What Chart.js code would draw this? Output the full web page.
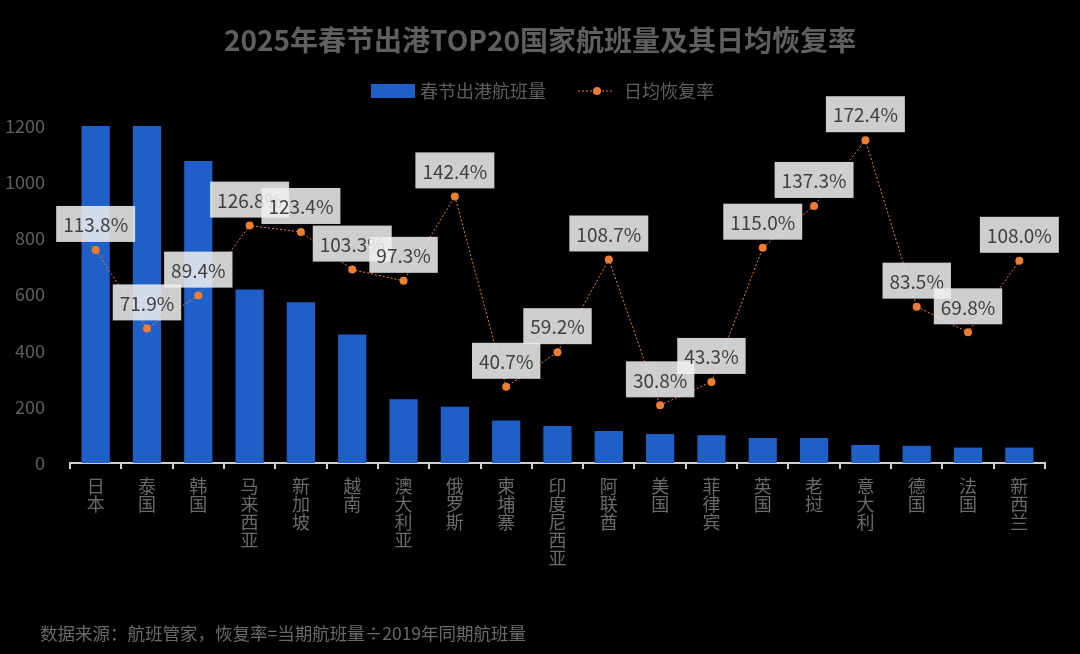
<!DOCTYPE html>
<html>
<head>
<meta charset="utf-8">
<script src="https://cdn.jsdelivr.net/npm/chart.js@4"></script>
<style>
  body { margin: 0; background: #000; }
  #wrap { width: 1080px; height: 654px; position: relative; }
</style>
</head>
<body>
<div id="wrap"><canvas id="chart"></canvas></div>
<script>
const countries = ['日本', '泰国', '韩国', '马来西亚', '新加坡', '越南', '澳大利亚', '俄罗斯', '柬埔寨',
  '印度尼西亚', '阿联酋', '美国', '菲律宾', '英国', '老挝', '意大利', '德国', '法国', '新西兰'];
const flights = [1200, 1200, 1075, 618, 572, 458, 227, 200, 151, 132, 114, 103, 99, 89, 89, 64, 61, 55, 55];
const recovery = [113.8, 71.9, 89.4, 126.8, 123.4, 103.3, 97.3, 142.4, 40.7, 59.2, 108.7, 30.8, 43.3, 115.0, 137.3, 172.4, 83.5, 69.8, 108.0];

const title = '2025年春节出港TOP20国家航班量及其日均恢复率';
const source = '数据来源：航班管家，恢复率=当期航班量÷2019年同期航班量';
const barName = '春节出港航班量';
const lineName = '日均恢复率';

const blue = '#1f5fc8';
const orange = '#ed7d31';
const gray = '#5f5f5f';
const font = '"Noto Sans CJK SC", "Noto Sans", sans-serif';

// labels in gray boxes above every point of the line
const boxLabels = {
  id: 'boxLabels',
  afterDatasetsDraw(chart) {
    const ctx = chart.ctx;
    const meta = chart.getDatasetMeta(0);
    ctx.save();
    ctx.font = '19px ' + font;
    ctx.textAlign = 'center';
    ctx.textBaseline = 'middle';
    meta.data.forEach((pt, i) => {
      const txt = recovery[i].toFixed(1) + '%';
      const w = ctx.measureText(txt).width + 14;
      const h = 36;
      const bottom = pt.y - 8;
      ctx.fillStyle = 'rgba(240,240,240,0.86)';
      ctx.fillRect(pt.x - w / 2, bottom - h, w, h);
      ctx.fillStyle = '#404040';
      ctx.fillText(txt, pt.x, bottom - h / 2 + 1);
    });
    ctx.restore();
  }
};

// title, legend and source note
const decor = {
  id: 'decor',
  afterDraw(chart) {
    const ctx = chart.ctx;
    ctx.save();
    ctx.fillStyle = gray;
    ctx.textBaseline = 'middle';
    ctx.textAlign = 'center';
    ctx.font = 'bold 28px ' + font;
    ctx.fillText(title, 540, 40);

    ctx.textAlign = 'left';
    ctx.font = '18px ' + font;
    ctx.fillStyle = blue;
    ctx.fillRect(371, 84, 44, 14);
    ctx.fillStyle = gray;
    ctx.fillText(barName, 420, 91);

    ctx.strokeStyle = orange;
    ctx.lineWidth = 1;
    ctx.setLineDash([2, 2]);
    ctx.beginPath();
    ctx.moveTo(578, 91);
    ctx.lineTo(614, 91);
    ctx.stroke();
    ctx.setLineDash([]);
    ctx.fillStyle = orange;
    ctx.beginPath();
    ctx.arc(597, 91, 4, 0, Math.PI * 2);
    ctx.fill();
    ctx.fillStyle = gray;
    ctx.fillText(lineName, 624, 91);

    ctx.font = '17.5px ' + font;
    ctx.fillStyle = '#6a6a6a';
    ctx.fillText(source, 40, 633);
    ctx.restore();
  }
};

new Chart(document.getElementById('chart'), {
  data: {
    labels: countries.map(c => c.split('')),
    datasets: [
      {
        type: 'line',
        label: lineName,
        data: recovery,
        yAxisID: 'y2',
        order: 0,
        borderColor: orange,
        borderWidth: 1,
        borderDash: [2, 2],
        pointRadius: 4,
        pointBorderWidth: 0,
        pointBackgroundColor: orange,
        tension: 0
      },
      {
        type: 'bar',
        label: barName,
        data: flights,
        yAxisID: 'y',
        order: 1,
        backgroundColor: blue,
        barPercentage: 0.55,
        categoryPercentage: 1
      }
    ]
  },
  options: {
    responsive: true,
    maintainAspectRatio: false,
    animation: false,
    layout: { padding: { top: 126, right: 35, left: 0, bottom: 0 } },
    plugins: {
      legend: { display: false },
      tooltip: { enabled: false }
    },
    scales: {
      x: {
        afterFit: s => { s.height = 191; },
        border: { color: '#d0d0d0', width: 2 },
        grid: { offset: true, drawOnChartArea: false, drawTicks: true, tickLength: 6, color: '#d0d0d0', lineWidth: 2 },
        ticks: { color: '#6a6a6a', font: { size: 18, family: font, lineHeight: 1.0 }, padding: 8, maxRotation: 0, autoSkip: false }
      },
      y: {
        min: 0,
        max: 1200,
        afterFit: s => { s.width = 70; },
        border: { display: false },
        grid: { display: false, drawTicks: false },
        ticks: { stepSize: 200, color: gray, font: { size: 18, family: font }, padding: 25, callback: v => String(v) }
      },
      y2: {
        min: 0,
        max: 180,
        display: false,
        position: 'right'
      }
    }
  },
  plugins: [boxLabels, decor]
});
</script>
</body>
</html>
